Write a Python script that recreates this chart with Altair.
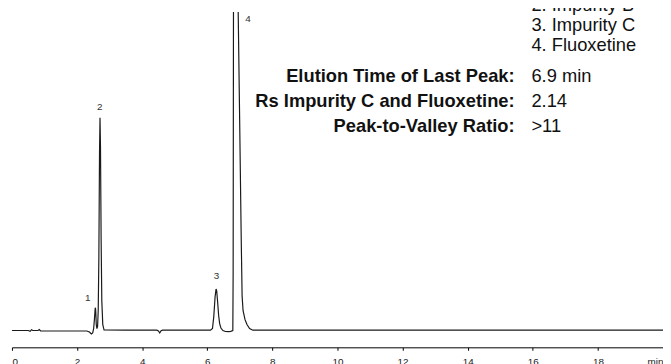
import altair as alt
import pandas as pd

# Chromatogram trace (time in min, signal in arbitrary units)
time_min = [0.0, 0.50, 0.56, 0.60, 0.64, 0.80, 0.84, 0.88, 1.5, 2.30, 2.38, 2.44, 2.48,
            2.51, 2.535, 2.555, 2.565, 2.575, 2.59, 2.61, 2.63, 2.65, 2.67, 2.69, 2.705,
            2.72, 2.74, 2.76, 2.79, 2.83, 3.5, 4.45, 4.50, 4.54, 4.58, 4.63, 5.5, 6.10,
            6.16, 6.20, 6.24, 6.27, 6.29, 6.32, 6.35, 6.38, 6.42, 6.48, 6.56, 6.65, 6.72,
            6.785, 6.795, 6.805, 6.84, 6.88, 6.92, 6.95, 7.00, 7.04, 7.07, 7.10, 7.16,
            7.22, 7.30, 7.40, 8.0, 12.0, 16.0, 20.0]
signal = [0, 0, -0.8, 0.8, 0, 0, 1, -0.5, -0.5, -0.5, -1.5, -3.5, -2.5,
          2, 12, 22, 23, 19, 6, 2, 4, 20, 75, 180, 215,
          185, 90, 30, 6, 0.5, 0.3, 0.3, -0.5, -2.5, -0.3, 0.3, 0.3, 0.3,
          2, 14, 34, 42, 40, 28, 15, 7, 2.5, 0, -1, -1.2, -0.8,
          0, 60, 322, 900, 1100, 800, 322, 200, 100, 35, 20, 11,
          6, 2, 0.3, 0.3, 0.3, 0.3, 0.3]

# Peak number labels (anchored in data units)
peak_names = ["1", "2", "3", "4"]
peak_label_t = [2.33, 2.70, 6.28, 7.25]
peak_label_s = [33, 226, 55, 315]

legend_lines = ["2. Impurity B", "3. Impurity C", "4. Fluoxetine"]
stat_labels = ["Elution Time of Last Peak:", "Rs Impurity C and Fluoxetine:", "Peak-to-Valley Ratio:"]
stat_values = ["6.9 min", "2.14", ">11"]

tick_values = [0, 2, 4, 6, 8, 10, 12, 14, 16, 18, 20]

FONT = "Liberation Sans"
W, H = 658, 339

trace = pd.DataFrame({"t": time_min, "s": signal})
peaks = pd.DataFrame({"name": peak_names, "t": peak_label_t, "s": peak_label_s})

xscale = alt.Scale(domain=[0, 20], nice=False, zero=False)
yscale = alt.Scale(domain=[-17, 322], nice=False, zero=False)

line = alt.Chart(trace).mark_line(color="#1a1a1a", strokeWidth=1.2, clip=True).encode(
    x=alt.X("t:Q", scale=xscale,
            axis=alt.Axis(values=tick_values, title=None, grid=False, domainColor="#000",
                          domainWidth=1, tickColor="#000", tickSize=3, tickWidth=1,
                          labelFontSize=10, labelColor="#222", labelFont=FONT, labelPadding=6,
                          labelExpr="datum.value == 20 ? 'min' : datum.label")),
    y=alt.Y("s:Q", scale=yscale, axis=None),
)

peak_text = alt.Chart(peaks).mark_text(fontSize=10, font=FONT, color="#333", baseline="middle").encode(
    x=alt.X("t:Q", scale=xscale),
    y=alt.Y("s:Q", scale=yscale),
    text="name:N",
)

layers = [line, peak_text]

LEFT_X = 525
RIGHT_X = 508
legend_y = [-0.5, 19.5, 39.5]
stat_y = [71, 96, 121]

for txt, yy in zip(legend_lines, legend_y):
    layers.append(alt.Chart(pd.DataFrame({"v": [txt]})).mark_text(
        fontSize=18.5, font=FONT, color="#111", align="left", baseline="alphabetic").encode(
        text="v:N", x=alt.value(LEFT_X), y=alt.value(yy)))

for lab, val, yy in zip(stat_labels, stat_values, stat_y):
    layers.append(alt.Chart(pd.DataFrame({"v": [lab]})).mark_text(
        fontSize=18.5, font=FONT, fontWeight="bold", color="#111", align="right",
        baseline="alphabetic").encode(text="v:N", x=alt.value(RIGHT_X), y=alt.value(yy)))
    layers.append(alt.Chart(pd.DataFrame({"v": [val]})).mark_text(
        fontSize=18.5, font=FONT, color="#111", align="left", baseline="alphabetic").encode(
        text="v:N", x=alt.value(LEFT_X), y=alt.value(yy)))

chart = alt.layer(*layers).properties(
    width=W, height=H,
    autosize=alt.AutoSizeParams(type="none"),
    padding={"left": 4, "top": 2, "right": 0, "bottom": 25},
    background="white",
).configure_view(stroke=None)

chart.save("out.html", embed_options={"renderer": "svg", "actions": False})
